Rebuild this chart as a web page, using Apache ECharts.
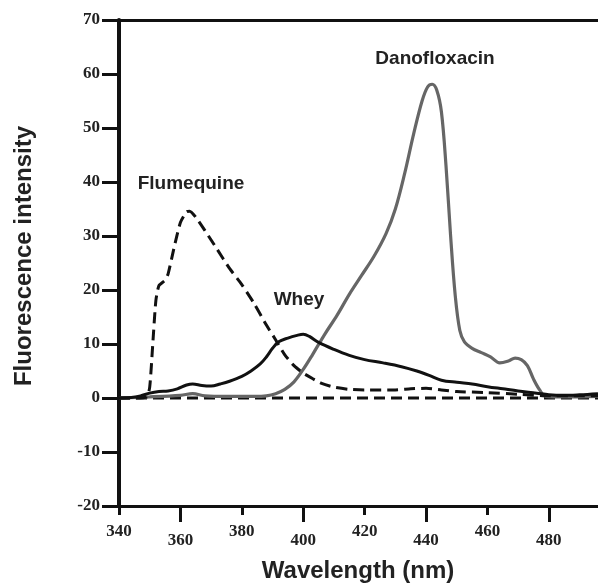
<!DOCTYPE html>
<html>
<head>
<meta charset="utf-8">
<script src="https://cdn.jsdelivr.net/npm/echarts@6/dist/echarts.min.js"></script>
<style>
  html, body { margin: 0; padding: 0; background: #fff; }
  #chart { width: 598px; height: 586px; }
</style>
</head>
<body>
<div id="chart"></div>
<script>
// wavelength (nm) / intensity pairs
const flumequine = [
  [340, 0], [345, 0], [349, 0.2], [350, 2], [351, 10], [352, 18], [353, 20.8], [355, 21.8],
  [356, 23], [358, 28], [360, 32.5], [362, 34.5], [363, 34.6], [365, 33.5], [368, 31],
  [372, 27.5], [376, 24], [380, 21], [384, 17.5], [388, 13.5], [391, 10.8], [394, 8],
  [397, 6], [400, 4.6], [403, 3.6], [406, 2.7], [410, 2], [415, 1.6], [420, 1.5],
  [430, 1.5], [435, 1.7], [440, 1.8], [445, 1.5], [450, 1.2], [460, 1.0], [470, 0.7],
  [480, 0.4], [490, 0.4], [496, 0.4]
];
const whey = [
  [340, 0], [344, 0.1], [347, 0.4], [350, 0.9], [353, 1.2], [356, 1.3], [359, 1.7],
  [362, 2.4], [364, 2.6], [367, 2.3], [370, 2.2], [373, 2.6], [376, 3.1], [380, 4.0],
  [383, 5], [386, 6.3], [388, 7.6], [390, 9.2], [392, 10.4], [395, 11.1], [398, 11.6],
  [400, 11.8], [402, 11.4], [405, 10.3], [410, 9], [415, 7.9], [420, 7.1], [426, 6.5],
  [432, 5.8], [437, 5.0], [441, 4.2], [445, 3.3], [450, 2.9], [455, 2.6], [460, 2.1],
  [465, 1.7], [470, 1.3], [476, 0.9], [480, 0.6], [485, 0.5], [490, 0.6], [496, 0.8]
];
const danofloxacin = [
  [340, 0], [350, 0.2], [360, 0.5], [364, 0.8], [368, 0.4], [375, 0.3], [384, 0.3],
  [388, 0.4], [391, 0.8], [394, 1.6], [397, 3], [400, 5.3], [403, 8], [407, 11.8],
  [411, 15.3], [415, 19.2], [419, 22.7], [423, 26.2], [427, 30.5], [430, 35], [433, 41.5],
  [436, 49], [438.7, 55], [440.5, 57.6], [442, 58.1], [443.5, 57], [445, 53],
  [446.5, 43], [448, 30], [449.5, 19], [451, 12.5], [452.5, 10.4], [455, 9.2],
  [458, 8.4], [461, 7.6], [464, 6.5], [467, 6.9], [469, 7.4], [471, 7.1], [473, 6],
  [475, 3.5], [477, 1.5], [479, 0.3], [485, 0.2], [496, 0.3]
];
const baseline = [[340, 0], [496, 0]];

const ticksA = [340, 380, 420, 460];   // short ticks, labels higher
const ticksB = [360, 400, 440, 480];   // long ticks, labels lower

const tickFont = { fontFamily: 'Liberation Serif', fontWeight: 'bold', fontSize: 17, color: '#222' };
const labelFont = { fontFamily: 'Liberation Sans', fontWeight: 'bold', fontSize: 19, fill: '#222' };

const chart = echarts.init(document.getElementById('chart'));

function bottomAxis(vals, len, margin) {
  return {
    type: 'value', position: 'bottom', min: 340, max: 496,
    axisLine: { show: true, onZero: false, lineStyle: { color: '#111', width: 3 } },
    axisTick: { show: true, customValues: vals, length: len, lineStyle: { color: '#111', width: 3 } },
    axisLabel: Object.assign({ customValues: vals, margin: margin }, tickFont),
    splitLine: { show: false }
  };
}

chart.setOption({
  animation: false,
  backgroundColor: '#fff',
  grid: { left: 119, right: 0, top: 20, bottom: 80 },
  xAxis: [
    bottomAxis(ticksA, 9, 17),
    bottomAxis(ticksB, 16, 26),
    {
      type: 'value', position: 'top', min: 340, max: 496,
      axisLine: { show: true, onZero: false, lineStyle: { color: '#111', width: 3 } },
      axisTick: { show: false }, axisLabel: { show: false }, splitLine: { show: false }
    }
  ],
  yAxis: {
    type: 'value', min: -20, max: 70, interval: 10,
    axisLine: { show: true, onZero: false, lineStyle: { color: '#111', width: 4 } },
    axisTick: { show: true, length: 17, lineStyle: { color: '#111', width: 3 } },
    axisLabel: Object.assign({ margin: 19 }, tickFont),
    splitLine: { show: false }
  },
  graphic: [
    { type: 'text', x: 24, y: 256, rotation: Math.PI / 2,
      style: { text: 'Fluorescence intensity', align: 'center', verticalAlign: 'middle',
               fontFamily: 'Liberation Sans', fontWeight: 'bold', fontSize: 24, fill: '#222' } },
    { type: 'text', x: 358, y: 571,
      style: { text: 'Wavelength (nm)', align: 'center', verticalAlign: 'middle',
               fontFamily: 'Liberation Sans', fontWeight: 'bold', fontSize: 24, fill: '#222' } },
    { type: 'text', x: 191, y: 184,
      style: Object.assign({ text: 'Flumequine', align: 'center', verticalAlign: 'middle' }, labelFont) },
    { type: 'text', x: 435, y: 59,
      style: Object.assign({ text: 'Danofloxacin', align: 'center', verticalAlign: 'middle' }, labelFont) },
    { type: 'text', x: 299, y: 300,
      style: Object.assign({ text: 'Whey', align: 'center', verticalAlign: 'middle' }, labelFont) }
  ],
  series: [
    {
      name: 'Baseline', type: 'line', data: baseline, showSymbol: false, z: 1,
      lineStyle: { color: '#111', width: 3, type: [11, 6] }
    },
    {
      name: 'Danofloxacin', type: 'line', data: danofloxacin, showSymbol: false, smooth: 0.35, z: 2,
      lineStyle: { color: '#666', width: 3.2 }
    },
    {
      name: 'Whey', type: 'line', data: whey, showSymbol: false, smooth: 0.35, z: 3,
      lineStyle: { color: '#111', width: 3 }
    },
    {
      name: 'Flumequine', type: 'line', data: flumequine, showSymbol: false, smooth: 0.2, z: 4,
      lineStyle: { color: '#111', width: 3, type: [11, 6] }
    }
  ]
});
</script>
</body>
</html>
